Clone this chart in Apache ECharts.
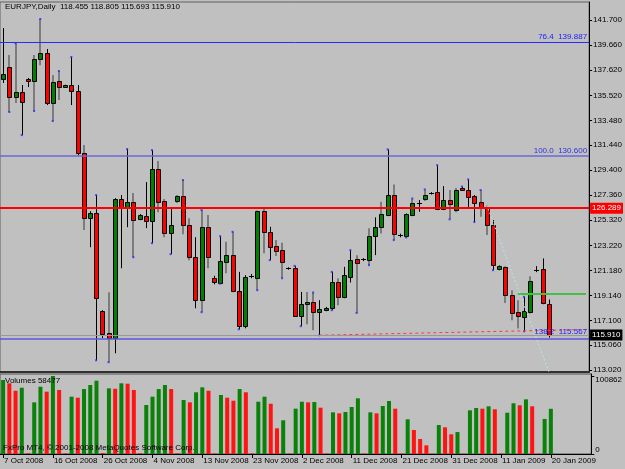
<!DOCTYPE html>
<html>
<head>
<meta charset="utf-8">
<title>EURJPY,Daily</title>
<script src="https://cdn.jsdelivr.net/npm/echarts@6.0.0/dist/echarts.min.js"></script>
<style>
  html, body { margin: 0; padding: 0; background: #c0c0c0; }
  #main { width: 625px; height: 469px; }
</style>
</head>
<body>
<div id="main"></div>
<script>
// trading days shown (FxPro feed has Sunday bars)
var octDays = [7,8,9,10,12,13,14,15,16,17,19,20,21,22,23,24,26,27,28,29,30,31];
var novDays = [2,3,4,5,6,7,9,10,11,12,13,14,16,17,18,19,20,21,23,24,25,26,27,28,30];
var decDays = [1,2,3,4,5,7,8,9,10,11,12,14,15,16,17,18,19,21,22,23,24,26,28,29,30,31];
var janDays = [2,4,5,6,7,8,9,11,12,13,14,15,16,18,19,20];

var openP = [136.90,137.85,135.39,135.80,136.86,136.70,138.50,139.00,134.90,136.70,
  136.21,136.37,135.88,130.80,125.47,125.88,117.87,116.04,115.64,127.03,
  126.29,126.78,125.39,125.63,125.22,129.49,126.86,124.24,126.86,127.27,
  124.90,122.27,118.75,124.73,120.58,120.17,121.89,122.44,119.49,116.64,
  120.72,120.58,126.04,124.35,123.18,122.85,121.35,121.35,117.46,118.40,
  118.61,117.79,117.93,118.15,120.20,119.02,120.66,122.09,122.05,122.03,
  123.99,124.76,125.72,127.36,123.99,123.99,125.72,126.72,127.03,127.45,
  127.58,126.21,126.95,126.13,127.95,127.77,127.27,126.81,126.40,124.90,
  121.29,121.43,119.16,117.79,117.38,117.79,121.21,121.29,118.455];
var highP = [141.04,138.83,139.80,136.37,136.95,138.83,141.78,139.32,137.19,137.52,
  136.40,138.67,136.37,131.45,126.04,127.36,117.93,119.40,127.10,127.36,
  131.13,127.52,125.80,128.42,131.04,130.14,127.03,126.37,127.36,128.59,
  125.47,123.91,126.13,125.72,120.75,123.99,123.53,124.35,121.07,120.80,
  120.90,126.10,126.29,124.76,123.67,123.45,121.45,121.56,119.43,119.43,
  119.38,118.75,118.20,121.07,120.55,121.48,122.85,122.44,122.20,124.65,
  125.53,126.81,131.10,128.23,124.20,125.85,127.08,126.95,127.82,127.60,
  129.81,128.09,127.77,127.93,128.05,128.64,127.36,127.77,126.54,125.31,
  121.60,121.54,119.57,118.75,119.02,120.72,121.54,122.17,118.805];
var lowP = [136.54,134.16,134.90,132.27,136.20,134.24,138.00,134.73,133.42,135.14,
  136.18,134.73,130.63,124.49,123.09,113.83,115.64,113.67,114.40,121.37,
  124.73,122.27,125.30,124.65,123.42,125.96,123.91,122.52,126.70,124.16,
  122.03,118.09,117.77,121.37,120.05,120.10,120.96,119.40,116.37,116.45,
  120.55,119.57,122.60,122.03,122.36,120.55,121.25,117.38,116.62,116.78,
  116.29,115.88,117.85,117.93,118.34,118.91,120.20,117.71,121.95,121.62,
  122.44,124.22,125.63,123.67,123.90,123.89,125.63,125.99,126.87,127.40,
  126.13,126.13,125.37,125.96,127.70,126.29,125.15,125.58,124.08,121.21,
  121.20,118.53,117.11,116.43,116.20,117.66,121.05,118.42,115.693];
var closeP = [137.30,135.39,135.80,134.98,136.70,138.50,139.00,134.90,136.62,136.21,
  136.37,135.88,130.80,125.47,125.88,118.91,116.02,115.64,127.03,126.29,
  126.78,125.31,125.72,125.22,129.49,126.78,124.24,124.90,127.27,124.90,
  122.27,118.75,124.73,122.27,120.20,121.95,122.44,119.49,116.64,120.66,
  120.72,126.04,124.35,123.12,122.79,121.89,121.35,117.46,118.42,118.61,
  117.79,118.01,118.15,120.20,119.02,120.80,122.03,121.81,122.10,123.99,
  124.76,125.80,127.36,124.16,124.10,125.77,126.72,126.72,127.36,127.55,
  126.21,126.95,126.62,127.77,127.77,127.22,126.72,126.40,124.90,121.62,
  121.54,119.16,117.74,117.44,117.85,120.31,121.21,118.48,115.910];
var volumes = [95700,91400,81800,85700,900,66800,87000,80600,100862,82800,
  700,74100,72800,84000,89200,94800,1200,84900,84400,91400,
  90900,82800,800,63400,74100,84000,89200,84000,700,69800,
  66800,79800,86200,81800,600,76300,72800,68900,84000,79800,
  500,67600,74100,65000,33200,43600,400,58600,67600,66800,
  67200,59900,500,53900,52600,54300,60800,72000,500,53900,
  52600,62100,68500,58600,400,44900,31000,19400,11200,300,
  37500,34500,25500,28400,400,56500,59500,58600,61700,57800,
  500,53400,65600,63000,70700,61700,400,45300,58477];

// fractal arrows (bar indices)
var fractalUp = [2,6,9,11,15,20,24,29,32,35,37,47,50,53,56,62,66,68,70,74,75,77,84];
var fractalDown = [1,3,5,8,15,17,21,24,27,32,35,38,41,43,45,48,51,53,57,59,63,65,72,76,79,84];

var priceTicks = [141.700,139.660,137.620,135.520,133.480,131.440,129.400,127.360,
  125.320,123.220,121.180,119.140,117.100,115.060,113.020];

var fiboPct = ['76.4', '100.0', '138.2'];
var fiboPrice = [139.887, 130.600, 115.567];
var redLevel = 126.289;
var bidPrice = 115.910;
var greenLevel = 119.27;
var greenFrom = 83;
var redTrendIdx = [51, 94];
var redTrendPrice = [115.88, 116.35];
var cyanTrendIdx = [78, 88];
var cyanTrendPrice = [126.54, 112.90];

// bars whose shadow is drawn grey in the screenshot
var greyWickBars = [1,2,5,6,8,9,13,17,21,25,26,28,29,30,32,33,36,37,41,42,44,45,
  49,50,54,57,59,61,63,66,68,72,73,77,78,81,82,83,85];

var SHIFT = 6; // empty bars at right (chart shift)
var monthNames = ['Oct 2008','Nov 2008','Dec 2008','Jan 2009'];
var dates = [];
[octDays, novDays, decDays, janDays].forEach(function (days, m) {
  days.forEach(function (d) { dates.push(d + ' ' + monthNames[m]); });
});
var cats = dates.slice();
for (var s = 0; s < SHIFT; s++) cats.push('');

var last = dates.length - 1;
var greySet = {};
greyWickBars.forEach(function (i) { greySet[i] = true; });

var ohlc = dates.map(function (d, i) { return [i, openP[i], closeP[i], lowP[i], highP[i]]; });
var volData = volumes.map(function (v, i) {
  var up = i === 0 || v > volumes[i - 1];
  return { value: v, itemStyle: { color: up ? '#0a820a' : '#ff1414' } };
});
var volMax = Math.max.apply(null, volumes);

var FONT = 'Liberation Sans, Arial, sans-serif';

var myChart = echarts.init(document.getElementById('main'), null, { renderer: 'canvas' });
var option = {
  animation: false,
  backgroundColor: '#c0c0c0',
  textStyle: { fontFamily: FONT },
  grid: [
    { left: 0, right: 32, top: 2, height: 370, show: true, borderColor: '#606060', borderWidth: 1 },
    { left: 0, right: 32, top: 374, height: 80, show: true, borderColor: '#505050', borderWidth: 1 }
  ],
  xAxis: [
    {
      gridIndex: 0, type: 'category', data: cats, boundaryGap: true,
      axisLine: { show: true, lineStyle: { color: '#303030', width: 2 } },
      axisTick: { show: false }, axisLabel: { show: false }, splitLine: { show: false }
    },
    {
      gridIndex: 1, type: 'category', data: cats, boundaryGap: true,
      axisLine: { show: true, lineStyle: { color: '#000' } },
      axisTick: { show: true, interval: 7, alignWithLabel: true, length: 4, lineStyle: { color: '#000' } },
      axisLabel: { interval: 7, align: 'left', margin: 3, fontSize: 8, color: '#000', padding: [0, 0, 0, 1] },
      splitLine: { show: false }
    }
  ],
  yAxis: [
    {
      gridIndex: 0, type: 'value', position: 'right', min: 112.87, max: 143.17, scale: true,
      axisLine: { show: true, lineStyle: { color: '#000' } },
      axisTick: { show: true, length: 3, customValues: priceTicks, lineStyle: { color: '#000' } },
      axisLabel: {
        customValues: priceTicks, fontSize: 8, color: '#000', margin: 4,
        formatter: function (v) { return v.toFixed(3); }
      },
      splitLine: { show: false }
    },
    {
      gridIndex: 1, type: 'value', position: 'right', min: 0, max: volMax * 80 / 78,
      axisLine: { show: true, lineStyle: { color: '#000' } },
      axisTick: { show: true, length: 3, customValues: [0, volMax], lineStyle: { color: '#000' } },
      axisLabel: {
        customValues: [0, volMax], margin: 4,
        formatter: function (v) { return v === 0 ? '{b|0}' : '{t|' + v + '}'; },
        rich: {
          t: { fontSize: 8, color: '#000', padding: [8, 0, 0, 0] },
          b: { fontSize: 8, color: '#000', padding: [0, 0, 8, 0] }
        }
      },
      splitLine: { show: false }
    }
  ],
  series: [
    {
      name: 'EURJPY', type: 'custom', xAxisIndex: 0, yAxisIndex: 0, clip: true,
      data: ohlc,
      renderItem: function (params, api) {
        var i = api.value(0);
        var o = api.coord([i, api.value(1)]);
        var c = api.coord([i, api.value(2)]);
        var l = api.coord([i, api.value(3)]);
        var h = api.coord([i, api.value(4)]);
        var x = Math.round(o[0]);
        var grey = !!greySet[i];
        var bull = api.value(2) > api.value(1);
        var top = Math.round(Math.min(o[1], c[1]));
        var bot = Math.round(Math.max(o[1], c[1]));
        var kids = [{
          type: 'line',
          shape: { x1: grey ? x : x + 0.5, y1: h[1], x2: grey ? x : x + 0.5, y2: l[1] },
          style: { stroke: grey ? '#7c7c7c' : '#000', lineWidth: grey ? 2 : 1 }
        }];
        if (bot - top < 2) {
          kids.push({
            type: 'line',
            shape: { x1: x - 2, y1: top + 0.5, x2: x + 3, y2: top + 0.5 },
            style: { stroke: '#000', lineWidth: 1 }
          });
        } else {
          kids.push({
            type: 'rect',
            shape: { x: x - 1.5, y: top + 0.5, width: 4, height: bot - top },
            style: { fill: bull ? '#008000' : '#ff0000', stroke: '#000', lineWidth: 1 }
          });
        }
        return { type: 'group', children: kids };
      },
      markLine: {
        silent: true, symbol: ['none', 'none'], animation: false,
        data: [
          {
            yAxis: fiboPrice[0], lineStyle: { color: '#2a2aff', width: 1, type: 'solid' },
            label: { show: true, position: 'insideEndTop', distance: [2, 1], formatter: fiboPct[0] + '  ' + fiboPrice[0].toFixed(3), color: '#2020ff', fontSize: 8 }
          },
          {
            yAxis: fiboPrice[1], lineStyle: { color: '#6a6ad8', width: 1.5, type: 'solid' },
            label: { show: true, position: 'insideEndTop', distance: [2, 1], formatter: fiboPct[1] + '  ' + fiboPrice[1].toFixed(3), color: '#3030e0', fontSize: 8 }
          },
          {
            yAxis: bidPrice, lineStyle: { color: '#989898', width: 1, type: 'solid' },
            label: { show: true, position: 'end', distance: 1, formatter: bidPrice.toFixed(3), color: '#fff', backgroundColor: '#000', padding: [2, 2, 1, 2], fontSize: 8 }
          },
          {
            yAxis: fiboPrice[2], lineStyle: { color: '#5858e0', width: 1.5, type: 'solid' },
            label: { show: true, position: 'insideEndTop', distance: [2, 3], formatter: fiboPct[2] + '  ' + fiboPrice[2].toFixed(3), color: '#2020ff', fontSize: 8 }
          },
          {
            yAxis: redLevel, lineStyle: { color: '#ff0000', width: 2, type: 'solid' },
            label: { show: true, position: 'end', distance: 1, formatter: redLevel.toFixed(3), color: '#fff', backgroundColor: '#ff0000', padding: [2, 2, 1, 2], fontSize: 8 }
          },
          [
            { coord: [greenFrom, greenLevel], lineStyle: { color: '#44c044', width: 2, type: 'solid' }, label: { show: false } },
            { coord: [cats.length - 1, greenLevel] }
          ]
        ]
      }
    },
    {
      name: 'trend', type: 'line', xAxisIndex: 0, yAxisIndex: 0, symbol: 'none', silent: true,
      data: redTrendIdx.map(function (x, k) { return [x, redTrendPrice[k]]; }),
      lineStyle: { color: '#ff3a3a', width: 1, type: [3, 3] }
    },
    {
      name: 'trend2', type: 'line', xAxisIndex: 0, yAxisIndex: 0, symbol: 'none', silent: true, clip: true,
      data: cyanTrendIdx.map(function (x, k) { return [x, cyanTrendPrice[k]]; }),
      lineStyle: { color: '#b4e6ee', width: 1, type: [2, 2] }
    },
    {
      name: 'fractals', type: 'scatter', xAxisIndex: 0, yAxisIndex: 0, symbol: 'rect', symbolSize: 2, silent: true,
      itemStyle: { color: '#2a2aff' },
      data: fractalUp.map(function (i) { return [i, highP[i]]; })
        .concat(fractalDown.map(function (i) { return [i, lowP[i]]; }))
    },
    {
      name: 'Volumes', type: 'bar', xAxisIndex: 1, yAxisIndex: 1, barWidth: 4, silent: true,
      data: volData
    }
  ],
  graphic: [
    {
      type: 'text', left: 5, top: 3, z: 100,
      style: {
        text: 'EURJPY,Daily  ' + [openP[last], highP[last], lowP[last], closeP[last]].map(function (v) { return v.toFixed(3); }).join(' '),
        font: '8px ' + FONT, fill: '#000'
      }
    },
    {
      type: 'text', left: 5, top: 377, z: 100,
      style: { text: 'Volumes ' + volumes[last], font: '8px ' + FONT, fill: '#000' }
    },
    {
      type: 'text', left: 3, top: 444, z: 100,
      style: { text: 'FxPro MT4, \u00a9 2001-2008 MetaQuotes Software Corp.', font: '8px ' + FONT, fill: '#000' }
    }
  ]
};
myChart.setOption(option);
</script>
</body>
</html>
